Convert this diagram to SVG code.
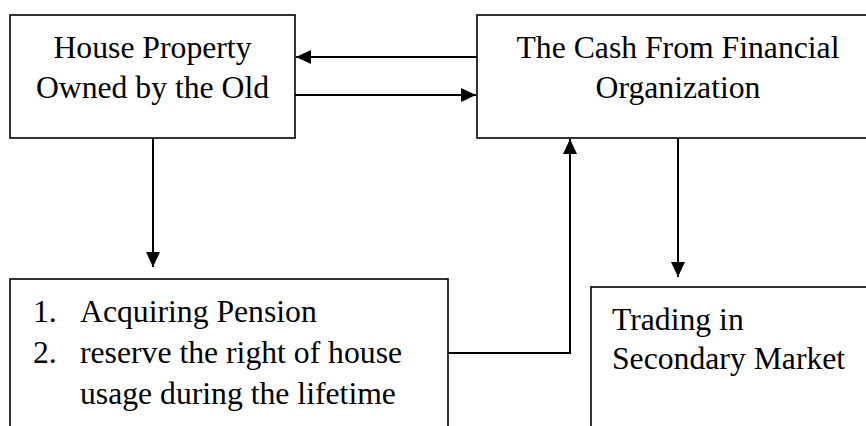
<svg xmlns="http://www.w3.org/2000/svg" width="866" height="426" viewBox="0 0 866 426">
<style>
.box{fill:#fff;stroke:#000;stroke-width:1.6}
.t{font-family:"Liberation Serif","Times New Roman",serif;font-size:31.7px;fill:#000}
.c{text-anchor:middle}
.ln{fill:none;stroke:#000;stroke-width:2}
</style>
<defs>
<marker id="ah" markerUnits="userSpaceOnUse" markerWidth="16" markerHeight="14" refX="15" refY="7" orient="auto">
<path d="M0,0 L15,7 L0,14 Z" fill="#000"/>
</marker>
</defs>
<rect width="866" height="426" fill="#fff"/>
<g id="node-house">
<rect class="box" x="10" y="15" width="285" height="123"/>
<text class="t c" x="152.5" y="58">House Property</text>
<text class="t c" x="152.5" y="98">Owned by the Old</text>
</g>
<g id="node-cash">
<rect class="box" x="477" y="15" width="402" height="123"/>
<text class="t c" x="678" y="58">The Cash From Financial</text>
<text class="t c" x="678" y="98">Organization</text>
</g>
<g id="node-pension">
<rect class="box" x="10" y="279" width="438" height="170"/>
<text class="t" x="33" y="322">1.</text>
<text class="t" x="80" y="322">Acquiring Pension</text>
<text class="t" x="33" y="363">2.</text>
<text class="t" x="80" y="363">reserve the right of house</text>
<text class="t" x="80" y="404">usage during the lifetime</text>
</g>
<g id="node-trading">
<rect class="box" x="591" y="287" width="290" height="170"/>
<text class="t" x="612" y="330">Trading in</text>
<text class="t" x="612" y="369">Secondary Market</text>
</g>
<g id="connectors">
<line class="ln" x1="477" y1="57" x2="296" y2="57" marker-end="url(#ah)"/>
<line class="ln" x1="295" y1="95" x2="476" y2="95" marker-end="url(#ah)"/>
<line class="ln" x1="153" y1="138" x2="153" y2="267" marker-end="url(#ah)"/>
<polyline class="ln" points="448,353 570,353 570,139" marker-end="url(#ah)"/>
<line class="ln" x1="678" y1="138" x2="678" y2="277" marker-end="url(#ah)"/>
</g>
</svg>
